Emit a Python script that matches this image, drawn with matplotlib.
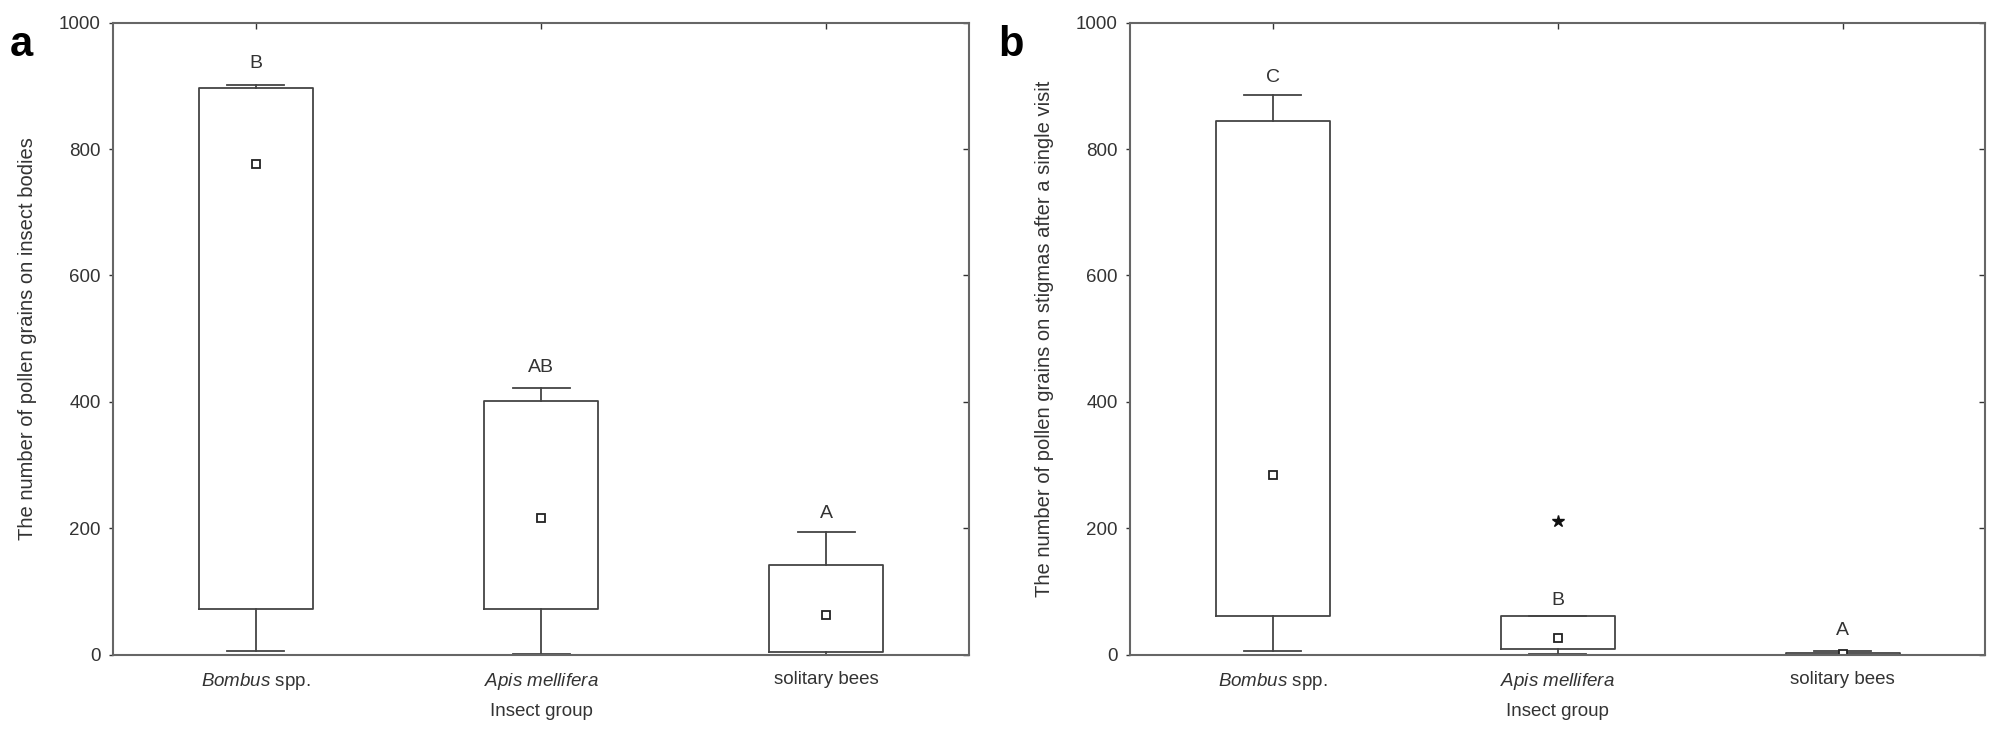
import numpy as np
import matplotlib
matplotlib.use("Agg")
import matplotlib.pyplot as plt

plt.rcParams['font.family'] = ['Liberation Sans', 'DejaVu Sans']
plt.rcParams['mathtext.fontset'] = 'custom'
plt.rcParams['mathtext.rm'] = 'Liberation Sans'
plt.rcParams['mathtext.it'] = 'Liberation Sans:italic'

groups = [r'$\mathit{Bombus}$ spp.', r'$\mathit{Apis\ mellifera}$', 'solitary bees']

# panel a: pollen on insect bodies (min, q1, median, q3, max)
a_min = [6, 1.5, 0]
a_q1 = [72, 72, 4]
a_med = [776, 216, 62]
a_q3 = [896, 401, 142]
a_max = [902, 422, 194]
a_letters = ['B', 'AB', 'A']
a_letter_y = [936, 454, 224]

# panel b: pollen on stigmas after a single visit
b_min = [6, 1.5, 0]
b_q1 = [61, 8, 0]
b_med = [284, 26, 1]
b_q3 = [844, 61, 2]
b_max = [886, 61, 5]
b_outliers = [[], [212], []]
b_letters = ['C', 'B', 'A']
b_letter_y = [913, 85, 38]

line_col = '#444444'
text_col = '#333333'

fig = plt.figure(figsize=(20.08, 7.5), dpi=100)
ax_a = fig.add_axes([0.0563, 0.1273, 0.4263, 0.8424])
ax_b = fig.add_axes([0.5628, 0.1273, 0.4258, 0.8424])


def draw_panel(ax, mins, q1s, meds, q3s, maxs, fliers, letters, letter_y, ylabel):
    stats = []
    for i in range(len(groups)):
        stats.append(dict(whislo=mins[i], q1=q1s[i], med=meds[i], q3=q3s[i],
                          whishi=maxs[i], mean=meds[i], fliers=fliers[i]))
    ax.bxp(stats, positions=range(len(groups)), widths=0.4, capwidths=0.2,
           showmeans=True, showfliers=True,
           boxprops=dict(color=line_col, linewidth=1.3),
           whiskerprops=dict(color=line_col, linewidth=1.3),
           capprops=dict(color=line_col, linewidth=1.3),
           medianprops=dict(visible=False),
           meanprops=dict(marker='s', markersize=5.5, markerfacecolor='white',
                          markeredgecolor='#222222', markeredgewidth=1.3),
           flierprops=dict(marker='*', markersize=9, markerfacecolor='#111111',
                           markeredgecolor='#111111'))
    for i, t in enumerate(letters):
        ax.text(i, letter_y[i], t, ha='center', va='center', fontsize=14, color=text_col)

    ax.set_xlim(-0.5, 2.5)
    ax.set_ylim(0, 1000)
    ax.set_yticks([0, 200, 400, 600, 800, 1000])
    ax.set_xticks(range(len(groups)))
    ax.set_xticklabels(groups)
    ax.tick_params(axis='both', labelsize=13.5, colors=text_col, width=1)
    # y: short ticks out on the left, in on the right
    ax.tick_params(axis='y', left=True, right=False, length=3, direction='out', pad=6)
    ax.tick_params(axis='x', bottom=False, top=True, length=4, direction='in', pad=12)
    sec = ax.secondary_yaxis('right')
    sec.set_yticks([0, 200, 400, 600, 800, 1000])
    sec.tick_params(direction='in', length=4, width=1, labelright=False, colors=text_col)
    sec.spines['right'].set_visible(False)
    for s in ax.spines.values():
        s.set_color('#666666')
        s.set_linewidth(1.5)
    ax.set_xlabel('Insect group', fontsize=13.5, color=text_col, labelpad=8)
    ax.set_ylabel(ylabel, fontsize=14.5, color=text_col)
    ax.yaxis.set_label_coords(-0.089, 0.5)


draw_panel(ax_a, a_min, a_q1, a_med, a_q3, a_max, [[], [], []],
           a_letters, a_letter_y, 'The number of pollen grains on insect bodies')
draw_panel(ax_b, b_min, b_q1, b_med, b_q3, b_max, b_outliers,
           b_letters, b_letter_y, 'The number of pollen grains on stigmas after a single visit')

fig.text(0.005, 0.94, 'a', fontsize=30, fontweight='bold', va='center')
fig.text(0.497, 0.94, 'b', fontsize=30, fontweight='bold', va='center')

fig.savefig('out.png', dpi=100, facecolor='white')
